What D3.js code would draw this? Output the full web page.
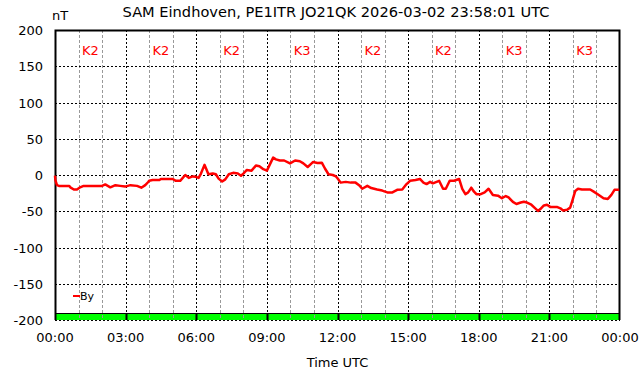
<!DOCTYPE html>
<html>
<head>
<meta charset="utf-8">
<script src="https://cdn.jsdelivr.net/npm/d3@7"></script>
<style>
  body { margin: 0; background: #fff; }
  svg { display: block; font-family: "DejaVu Sans", sans-serif; }
</style>
</head>
<body>
<div id="chart"></div>
<script>
const title = "SAM Eindhoven, PE1ITR JO21QK 2026-03-02 23:58:01 UTC"

// minutes since 00:00 UTC
const minutes = [0, 1, 5, 10, 36, 39, 48, 56, 64, 73, 120, 128, 141, 154, 166, 179, 192, 209, 220, 230,
  237, 240, 249, 266, 270, 300, 308, 319, 332, 341, 351, 359, 366, 372, 381, 385, 391, 402, 410, 417,
  426, 434, 443, 454, 466, 474, 480, 489, 501, 512, 521, 531, 540, 548, 556, 563, 573, 584, 599, 612,
  624, 633, 644, 652, 658, 669, 680, 688, 697, 708, 716, 720, 728, 741, 754, 766, 775, 783, 796, 806,
  821, 834, 847, 860, 872, 885, 896, 905, 919, 930, 939, 947, 956, 963, 979, 989, 996, 1006, 1017, 1030,
  1038, 1046, 1053, 1061, 1068, 1074, 1085, 1095, 1105, 1116, 1129, 1139, 1149, 1156, 1167, 1176, 1187, 1195, 1203, 1214,
  1224, 1231, 1237, 1246, 1254, 1262, 1279, 1288, 1295, 1305, 1313, 1319, 1326, 1333, 1343, 1364, 1373, 1386, 1398, 1409,
  1418, 1426, 1438]
// By (nT)
const byValues = [-1, -7, -14, -15, -15, -17, -20, -20, -17, -15, -15, -13, -17, -14, -15, -16, -14, -15, -17.5, -14,
  -10, -8, -7, -7, -5.5, -5.5, -8, -8, 0, -4, -2, -2.5, -4, 2, 14, 9, 1, 2, 1, -5,
  -9, -6, 1, 3, 2, -1, 2, 7, 6, 13, 12, 8, 6, 15, 24, 21.5, 20, 20, 16, 20,
  19, 16, 11, 15, 18, 16.5, 17, 9, 1, 0, -2, -4.5, -10.5, -9.5, -10.5, -10.5, -14, -19, -15, -18,
  -20, -21.5, -24, -24, -20.5, -20, -12.5, -8, -7, -5.5, -10.5, -12.5, -9.5, -11.5, -8, -19, -19, -8, -8, -5.5,
  -19, -26.5, -24, -17.5, -23, -26.5, -26.5, -24, -19, -27.5, -28.5, -32, -29, -31, -37, -40, -38, -37, -38, -41,
  -46, -49.5, -47, -42, -41, -44, -44, -46, -49, -48, -45, -34.5, -22, -19, -20, -20, -23, -27.5, -32, -33,
  -27.5, -20.5, -20.5]

// K index per 3-hour block
const kIndex = ["K2", "K2", "K2", "K3", "K2", "K2", "K3", "K3"]
const xTickLabels = ["00:00", "03:00", "06:00", "09:00", "12:00", "15:00", "18:00", "21:00", "00:00"]
const yTicks = [200, 150, 100, 50, 0, -50, -100, -150, -200]

const width = 642, height = 376
const margin = {top: 30, right: 22, bottom: 56, left: 55}

const svg = d3.select("#chart").append("svg")
  .attr("width", width)
  .attr("height", height)

const x = d3.scaleLinear().domain([0, 1440]).range([margin.left, width - margin.right])
const y = d3.scaleLinear().domain([-200, 200]).range([height - margin.bottom, margin.top])

// status bar at the bottom
svg.append("rect")
  .attr("x", x(0))
  .attr("y", y(-200) - 7)
  .attr("width", x(1440) - x(0))
  .attr("height", 7)
  .attr("fill", "#00ff00")

// minor grid (every hour)
svg.append("g")
  .selectAll("line")
  .data(d3.range(60, 1440, 60).filter(d => d % 180 != 0))
  .join("line")
    .attr("x1", d => Math.round(x(d)) + 0.5)
    .attr("x2", d => Math.round(x(d)) + 0.5)
    .attr("y1", y(200))
    .attr("y2", y(-200))
    .attr("stroke", "#999")
    .attr("stroke-dasharray", "3,2")

// major vertical grid
svg.append("g")
  .selectAll("line")
  .data(d3.range(180, 1440, 180))
  .join("line")
    .attr("x1", d => Math.round(x(d)) + 0.5)
    .attr("x2", d => Math.round(x(d)) + 0.5)
    .attr("y1", y(200))
    .attr("y2", y(-200))
    .attr("stroke", "#000")
    .attr("stroke-dasharray", "2,2")

// thick ticks inside the status bar
svg.append("g")
  .selectAll("line")
  .data(d3.range(180, 1440, 180))
  .join("line")
    .attr("x1", d => Math.round(x(d)) + 0.5)
    .attr("x2", d => Math.round(x(d)) + 0.5)
    .attr("y1", y(-200) - 7)
    .attr("y2", y(-200))
    .attr("stroke", "#000")
    .attr("stroke-width", 2)

// horizontal grid
svg.append("g")
  .selectAll("line")
  .data(yTicks.filter(d => d != 200))
  .join("line")
    .attr("x1", x(0))
    .attr("x2", x(1440))
    .attr("y1", d => Math.round(y(d)) + 0.5)
    .attr("y2", d => Math.round(y(d)) + 0.5)
    .attr("stroke", "#000")
    .attr("stroke-dasharray", "2,2")

// black line on top of the status bar
svg.append("line")
  .attr("x1", x(0)).attr("x2", x(1440))
  .attr("y1", Math.round(y(-200) - 7) + 0.5)
  .attr("y2", Math.round(y(-200) - 7) + 0.5)
  .attr("stroke", "#000")
  .attr("stroke-width", 1)

// frame
svg.append("path")
  .attr("d", `M${x(0) + 0.5},${y(-200)}V${y(200) + 0.5}H${x(1440) - 0.5}V${y(-200)}`)
  .attr("fill", "none")
  .attr("stroke", "#000")
  .attr("stroke-width", 2)

// K index labels
svg.append("g")
  .selectAll("text")
  .data(kIndex)
  .join("text")
    .attr("x", (d, i) => x(i * 180 + 90))
    .attr("y", 55)
    .attr("text-anchor", "middle")
    .attr("fill", "red")
    .attr("font-size", 13)
    .text(d => d)

// data line
const line = d3.line()
  .x((d, i) => x(minutes[i]))
  .y(d => y(d))

svg.append("path")
  .datum(byValues)
  .attr("d", line)
  .attr("fill", "none")
  .attr("stroke", "red")
  .attr("stroke-width", 2.5)
  .attr("stroke-linejoin", "round")

// y axis labels
svg.append("g")
  .selectAll("text")
  .data(yTicks)
  .join("text")
    .attr("x", 43)
    .attr("y", d => y(d) + 5)
    .attr("text-anchor", "end")
    .attr("font-size", 13)
    .text(d => d)

// x axis labels
svg.append("g")
  .selectAll("text")
  .data(xTickLabels)
  .join("text")
    .attr("x", (d, i) => x(i * 180))
    .attr("y", 342)
    .attr("text-anchor", "middle")
    .attr("font-size", 13)
    .text(d => d)

svg.append("text")
  .attr("x", (x(0) + x(1440)) / 2)
  .attr("y", 367)
  .attr("text-anchor", "middle")
  .attr("font-size", 13)
  .text("Time UTC")

svg.append("text")
  .attr("x", 60)
  .attr("y", 20)
  .attr("text-anchor", "middle")
  .attr("font-size", 13)
  .text("nT")

svg.append("text")
  .attr("x", 336)
  .attr("y", 17)
  .attr("text-anchor", "middle")
  .attr("font-size", 14.6)
  .text(title)

// legend
svg.append("line")
  .attr("x1", 73).attr("x2", 80)
  .attr("y1", 296).attr("y2", 296)
  .attr("stroke", "red")
  .attr("stroke-width", 2)

svg.append("text")
  .attr("x", 80)
  .attr("y", 300)
  .attr("font-size", 11)
  .text("By")
</script>
</body>
</html>
